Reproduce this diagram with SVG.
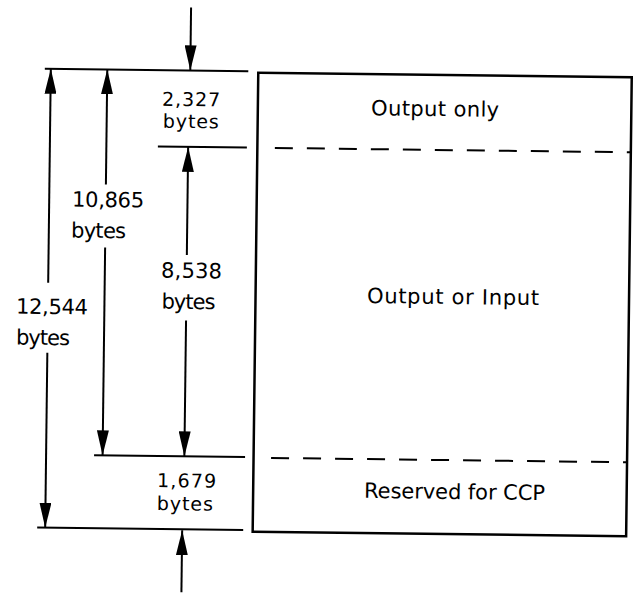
<svg xmlns="http://www.w3.org/2000/svg" width="637" height="597" viewBox="0 0 637 597">
  <style>
    .ln { stroke: #000; stroke-width: 2; fill: none; }
    .box { stroke: #000; stroke-width: 2.5; fill: #fff; }
    .dash { stroke: #000; stroke-width: 2; fill: none; stroke-dasharray: 18 14; }
    .arr { stroke: #000; stroke-width: 2; fill: none; marker-end: url(#ah); }
    text { font-family: "DejaVu Sans", "Liberation Sans", sans-serif; font-size: 21px; fill: #000; }
    .tight { font-size: 19px; }
  </style>
  <defs>
    <marker id="ah" viewBox="0 0 25 12" refX="25" refY="6" markerWidth="25" markerHeight="12" markerUnits="userSpaceOnUse" orient="auto">
      <path d="M0,0 L25,6 L0,12 Z" fill="#000"/>
    </marker>
  </defs>
  <rect width="637" height="597" fill="#fff"/>
  <g transform="rotate(0.7 318 300)">
    <g id="memory-box">
      <rect class="box" x="255.5" y="73.5" width="373.5" height="459"/>
    </g>
    <g id="connectors">
      <line class="ln" x1="42" y1="72" x2="245.5" y2="72"/>
      <line class="ln" x1="156" y1="148.5" x2="245" y2="148.5"/>
      <line class="ln" x1="96" y1="458" x2="247" y2="458"/>
      <line class="ln" x1="40" y1="531" x2="246" y2="531"/>
      <line class="dash" x1="273" y1="148.5" x2="629" y2="148.5"/>
      <line class="dash" x1="273" y1="458.5" x2="629" y2="458.5"/>
      <line class="arr" x1="187.5" y1="9" x2="187.5" y2="72"/>
      <line class="arr" x1="185" y1="594" x2="185" y2="532"/>
      <line class="arr" x1="48" y1="286" x2="48" y2="72"/>
      <line class="arr" x1="48" y1="356" x2="48" y2="531"/>
      <line class="arr" x1="104.5" y1="187" x2="104.5" y2="72"/>
      <line class="arr" x1="104.5" y1="250" x2="104.5" y2="458"/>
      <line class="arr" x1="186.3" y1="256.5" x2="186.3" y2="148.5"/>
      <line class="arr" x1="186.3" y1="322" x2="186.3" y2="458"/>
    </g>
    <g id="region-output-only">
      <text x="368.8" y="114.6" textLength="128" lengthAdjust="spacing">Output only</text>
    </g>
    <g id="region-output-or-input">
      <text x="367" y="302.4" textLength="172" lengthAdjust="spacing">Output or Input</text>
    </g>
    <g id="region-reserved-ccp">
      <text x="366.4" y="497.3" textLength="181" lengthAdjust="spacing">Reserved for CCP</text>
    </g>
    <g id="label-2327">
      <text class="tight" x="159.7" y="107.6" textLength="58" lengthAdjust="spacing">2,327</text>
      <text class="tight" x="160.7" y="129.6" textLength="56" lengthAdjust="spacing">bytes</text>
    </g>
    <g id="label-10865">
      <text x="70.9" y="209.6" textLength="72" lengthAdjust="spacing">10,865</text>
      <text x="70.3" y="240.6" textLength="55" lengthAdjust="spacing">bytes</text>
    </g>
    <g id="label-8538">
      <text x="160.7" y="279.5" textLength="61" lengthAdjust="spacing">8,538</text>
      <text x="161.5" y="310.5" textLength="54" lengthAdjust="spacing">bytes</text>
    </g>
    <g id="label-12544">
      <text x="16.2" y="317.2" textLength="72" lengthAdjust="spacing">12,544</text>
      <text x="16.5" y="348.2" textLength="54" lengthAdjust="spacing">bytes</text>
    </g>
    <g id="label-1679">
      <text class="tight" x="159.3" y="489" textLength="59" lengthAdjust="spacing">1,679</text>
      <text class="tight" x="159.4" y="512" textLength="56" lengthAdjust="spacing">bytes</text>
    </g>
  </g>
</svg>
